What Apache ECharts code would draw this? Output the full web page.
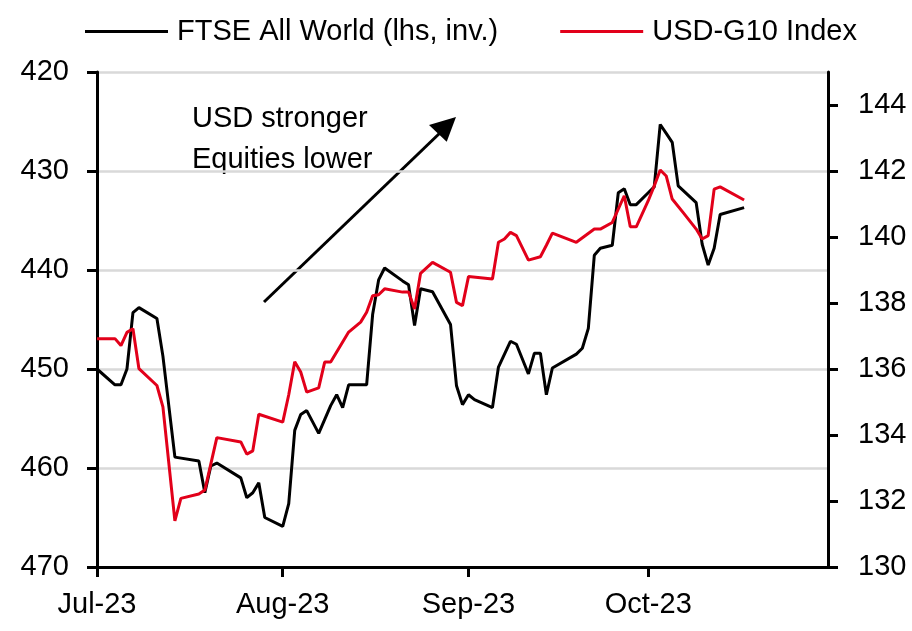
<!DOCTYPE html>
<html>
<head>
<meta charset="utf-8">
<script src="https://cdn.jsdelivr.net/npm/echarts@6/dist/echarts.min.js"></script>
<style>
  html, body { margin: 0; padding: 0; background: #fff; }
  #chart { width: 912px; height: 631px; }
</style>
</head>
<body>
<div id="chart"></div>
<script>
// FTSE All World, left axis (inverted)
var ftseDates = [
  '2023-07-01','2023-07-04','2023-07-05','2023-07-06','2023-07-07','2023-07-08','2023-07-11','2023-07-12',
  '2023-07-14','2023-07-18','2023-07-19','2023-07-20','2023-07-21','2023-07-25','2023-07-26','2023-07-27',
  '2023-07-28','2023-07-29','2023-08-01','2023-08-02','2023-08-03','2023-08-04','2023-08-05','2023-08-07',
  '2023-08-09','2023-08-10','2023-08-11','2023-08-12','2023-08-15','2023-08-16','2023-08-17','2023-08-18',
  '2023-08-21','2023-08-22','2023-08-23','2023-08-24','2023-08-26','2023-08-29','2023-08-30','2023-08-31',
  '2023-09-01','2023-09-02','2023-09-05','2023-09-06','2023-09-08','2023-09-09','2023-09-11','2023-09-12',
  '2023-09-13','2023-09-14','2023-09-15','2023-09-19','2023-09-20','2023-09-21','2023-09-22','2023-09-23',
  '2023-09-25','2023-09-26','2023-09-27','2023-09-28','2023-09-29','2023-10-01','2023-10-02','2023-10-03',
  '2023-10-04','2023-10-05','2023-10-06','2023-10-09','2023-10-10','2023-10-11','2023-10-12','2023-10-13',
  '2023-10-17'
];
var ftseValues = [
  450.0, 451.6, 451.6, 450.0, 444.3, 443.8, 444.9, 448.7,
  458.9, 459.3, 462.5, 459.8, 459.5, 461.0, 463.0, 462.5,
  461.5, 465.0, 465.9, 463.6, 456.2, 454.6, 454.2, 456.5,
  453.7, 452.6, 453.9, 451.6, 451.6, 444.5, 441.0, 439.8,
  441.1, 441.5, 445.6, 441.9, 442.2, 445.5, 451.7, 453.6,
  452.6, 453.1, 453.9, 449.8, 447.2, 447.5, 450.5, 448.4,
  448.4, 452.6, 449.9, 448.5, 447.9, 445.9, 438.5, 437.8,
  437.5, 432.2, 431.8, 433.4, 433.4, 432.2, 431.6, 425.3,
  426.2, 427.1, 431.5, 433.2, 437.4, 439.5, 437.8, 434.4,
  433.7
];

// USD-G10 Index, right axis
var usdDates = [
  '2023-07-01','2023-07-04','2023-07-05','2023-07-06','2023-07-07','2023-07-08','2023-07-11','2023-07-12',
  '2023-07-14','2023-07-15','2023-07-18','2023-07-19','2023-07-21','2023-07-25','2023-07-26','2023-07-27',
  '2023-07-28','2023-08-01','2023-08-02','2023-08-03','2023-08-04','2023-08-05','2023-08-07','2023-08-08',
  '2023-08-09','2023-08-12','2023-08-14','2023-08-15','2023-08-16','2023-08-17','2023-08-18','2023-08-21',
  '2023-08-22','2023-08-23','2023-08-24','2023-08-26','2023-08-29','2023-08-30','2023-08-31','2023-09-01',
  '2023-09-05','2023-09-06','2023-09-07','2023-09-08','2023-09-09','2023-09-11','2023-09-13','2023-09-14',
  '2023-09-15','2023-09-19','2023-09-22','2023-09-23','2023-09-25','2023-09-27','2023-09-28','2023-09-29',
  '2023-10-01','2023-10-02','2023-10-03','2023-10-04','2023-10-05','2023-10-07','2023-10-09','2023-10-10',
  '2023-10-11','2023-10-12','2023-10-13','2023-10-17'
];
var usdValues = [
  136.92, 136.92, 136.71, 137.11, 137.22, 136.01, 135.50, 134.85,
  131.40, 132.08, 132.21, 132.33, 133.92, 133.79, 133.42, 133.52,
  134.63, 134.39, 135.22, 136.22, 135.91, 135.30, 135.43, 136.21,
  136.21, 137.12, 137.42, 137.72, 138.22, 138.25, 138.43, 138.33,
  138.33, 137.82, 138.90, 139.23, 138.93, 138.02, 137.92, 138.80,
  138.73, 139.84, 139.94, 140.14, 140.04, 139.30, 139.40, 139.75,
  140.12, 139.84, 140.24, 140.24, 140.44, 141.25, 140.31, 140.31,
  141.10, 141.55, 142.03, 141.85, 141.15, 140.70, 140.24, 139.94,
  140.04, 141.45, 141.52, 141.12
];

var xTickDates = ['2023-07-01', '2023-08-01', '2023-09-01', '2023-10-01'];
var xTickLabels = ['Jul-23', 'Aug-23', 'Sep-23', 'Oct-23'];
var rightTicks = [130, 132, 134, 136, 138, 140, 142, 144];

function toTime(s) {
  var p = s.split('-');
  return new Date(+p[0], +p[1] - 1, +p[2]).getTime();
}

var font = "'Liberation Sans', Arial, sans-serif";
var xTickTimes = xTickDates.map(toTime);

var axisLine = { show: true, lineStyle: { color: '#000', width: 3 } };
var axisTick = { show: true, inside: false, length: 10, lineStyle: { color: '#000', width: 3 } };
var labelStyle = { color: '#000', fontSize: 29, fontFamily: font };

var chart = echarts.init(document.getElementById('chart'));
chart.setOption({
  animation: false,
  backgroundColor: '#fff',
  textStyle: { fontFamily: font },
  grid: { left: 97, right: 84, top: 72, bottom: 64, containLabel: false, outerBoundsMode: 'none' },
  legend: {
    top: 12,
    left: 80,
    icon: 'rect',
    itemWidth: 83,
    itemHeight: 3,
    itemGap: 62,
    textStyle: { color: '#000', fontSize: 29, fontFamily: font, padding: [0, 0, 0, 4] },
    data: ['FTSE All World (lhs, inv.)', 'USD-G10 Index']
  },
  xAxis: {
    // dates as timestamps on a value axis so the month ticks can be set exactly
    type: 'value',
    min: toTime('2023-07-01'),
    max: toTime('2023-10-31'),
    axisLine: axisLine,
    axisTick: Object.assign({}, axisTick, { customValues: xTickTimes }),
    axisLabel: Object.assign({}, labelStyle, {
      margin: 23,
      customValues: xTickTimes,
      formatter: function (v) {
        var i = xTickTimes.indexOf(v);
        return i >= 0 ? xTickLabels[i] : '';
      }
    }),
    splitLine: { show: false }
  },
  yAxis: [
    {
      type: 'value',
      position: 'left',
      inverse: true,
      min: 420,
      max: 470,
      interval: 10,
      axisLine: axisLine,
      axisTick: axisTick,
      axisLabel: Object.assign({}, labelStyle, { margin: 28 }),
      splitLine: { show: true, lineStyle: { color: '#d9d9d9', width: 2.5 } }
    },
    {
      type: 'value',
      position: 'right',
      min: 130,
      max: 145,
      axisLine: axisLine,
      axisTick: Object.assign({}, axisTick, { customValues: rightTicks }),
      axisLabel: Object.assign({}, labelStyle, { margin: 30, customValues: rightTicks }),
      splitLine: { show: false }
    }
  ],
  series: [
    {
      name: 'FTSE All World (lhs, inv.)',
      type: 'line',
      yAxisIndex: 0,
      symbol: 'none',
      lineStyle: { color: '#000', width: 3 },
      itemStyle: { color: '#000' },
      data: ftseDates.map(function (d, i) { return [toTime(d), ftseValues[i]]; })
    },
    {
      name: 'USD-G10 Index',
      type: 'line',
      yAxisIndex: 1,
      symbol: 'none',
      lineStyle: { color: '#e2001a', width: 3 },
      itemStyle: { color: '#e2001a' },
      data: usdDates.map(function (d, i) { return [toTime(d), usdValues[i]]; })
    }
  ],
  graphic: [
    { type: 'text', x: 192, y: 119, style: { text: 'USD stronger', font: '29px ' + font, fill: '#000', verticalAlign: 'middle' } },
    { type: 'text', x: 192, y: 160, style: { text: 'Equities lower', font: '29px ' + font, fill: '#000', verticalAlign: 'middle' } },
    { type: 'line', shape: { x1: 264, y1: 302, x2: 442, y2: 131 }, style: { stroke: '#000', lineWidth: 3 } },
    { type: 'polygon', shape: { points: [[456, 117], [429, 125], [446.7, 141.7]] }, style: { fill: '#000' } }
  ]
});
</script>
</body>
</html>
